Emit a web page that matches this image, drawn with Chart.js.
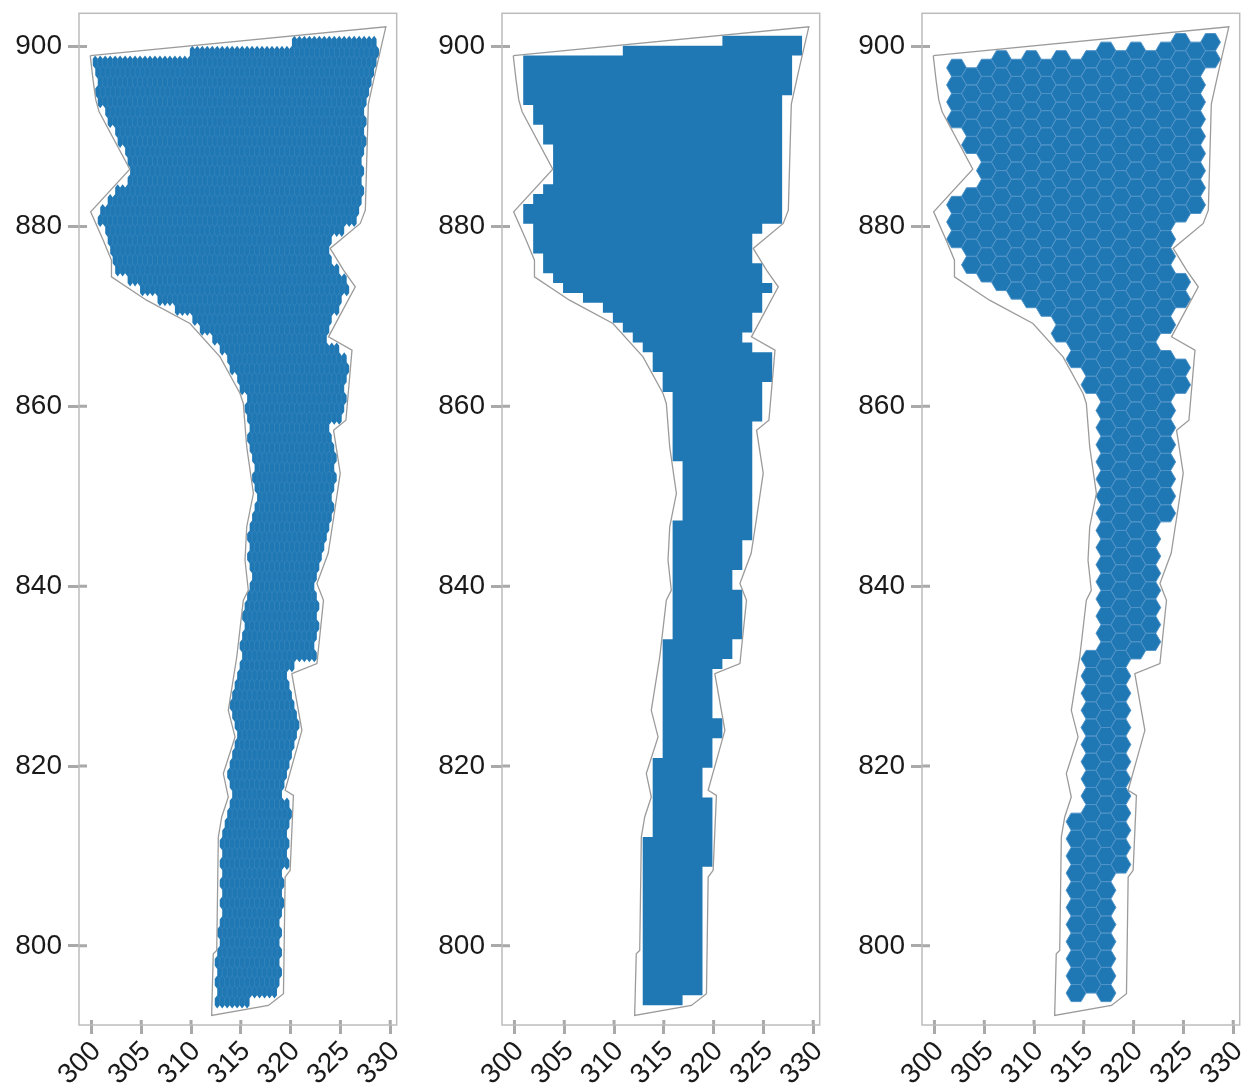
<!DOCTYPE html>
<html>
<head>
<meta charset="utf-8">
<script src="https://cdn.jsdelivr.net/npm/chart.js@4.4.1/dist/chart.umd.min.js"></script>
<style>
  html, body { margin: 0; padding: 0; background: #ffffff; width: 1251px; height: 1088px; overflow: hidden; }
  .panel { position: absolute; top: 0; width: 412px; height: 1088px; }
</style>
</head>
<body>
<div class="panel" style="left:0px"><canvas id="c1" width="412" height="1088"></canvas></div>
<div class="panel" style="left:422.7px"><canvas id="c2" width="412" height="1088"></canvas></div>
<div class="panel" style="left:842.7px"><canvas id="c3" width="412" height="1088"></canvas></div>
<script>
// Study-area boundary, vertices listed clockwise from the north-west corner
const boundaryX = [
  299.88, 329.56, 328.60, 327.80, 327.50, 326.99, 323.97, 325.31, 326.49, 323.80,
  326.16, 325.55, 324.31, 324.98, 324.28, 323.77, 322.64, 323.30, 322.64, 320.12,
  321.13, 319.45, 320.28, 319.95, 319.45, 319.28, 317.77, 312.07, 312.23, 312.58,
  312.74, 313.08, 313.74, 313.24, 314.42, 313.74, 314.59, 315.25, 315.75, 315.42,
  315.59, 316.26, 315.59, 315.25, 314.92, 312.91, 309.89, 305.53, 302.01, 302.01,
  301.17, 299.92, 303.85, 300.77, 300.43, 300.16
];
const boundaryY = [
  899.00, 902.20, 897.60, 893.60, 881.81, 880.33, 877.55, 875.14, 873.28, 867.72,
  866.24, 858.45, 857.34, 852.56, 847.33, 843.66, 840.29, 838.43, 831.39, 830.28,
  823.97, 817.30, 816.74, 808.40, 807.65, 794.68, 793.38, 792.27, 799.13, 799.50,
  812.10, 814.33, 816.55, 819.16, 823.23, 826.19, 832.12, 838.43, 839.54, 842.88,
  846.59, 850.30, 855.48, 860.31, 861.42, 865.50, 869.21, 871.80, 874.39, 876.25,
  878.48, 881.62, 886.36, 892.75, 894.10, 896.30
];

const xTickValues = [300, 305, 310, 315, 320, 325, 330];
const yTickValues = [800, 820, 840, 860, 880, 900];

const X_MIN = 298.75, X_MAX = 330.65;
const Y_MIN = 791.2,  Y_MAX = 903.7;

const FILL = '#1f77b4';
const FONT = "'Liberation Sans', Arial, Helvetica, sans-serif";

// ---------- geometry helpers ----------
const minX = Math.min(...boundaryX), maxX = Math.max(...boundaryX);
const minY = Math.min(...boundaryY), maxY = Math.max(...boundaryY);

function insideBoundary(x, y) {
  let inside = false;
  for (let i = 0, j = boundaryX.length - 1; i < boundaryX.length; j = i++) {
    const xi = boundaryX[i], yi = boundaryY[i], xj = boundaryX[j], yj = boundaryY[j];
    if (((yi > y) !== (yj > y)) && (x < (xj - xi) * (y - yi) / (yj - yi) + xi)) inside = !inside;
  }
  return inside;
}

function insideConvex(verts, x, y) {
  // verts counter-clockwise
  for (let i = 0; i < verts.length; i++) {
    const [ax, ay] = verts[i], [bx, by] = verts[(i + 1) % verts.length];
    if ((bx - ax) * (y - ay) - (by - ay) * (x - ax) <= 0) return false;
  }
  return true;
}

// a cell is kept only when it lies wholly inside the boundary
function cellWithin(verts) {
  for (const [vx, vy] of verts) if (!insideBoundary(vx, vy)) return false;
  for (let i = 0; i < boundaryX.length; i++) if (insideConvex(verts, boundaryX[i], boundaryY[i])) return false;
  return true;
}

function cellVertices(cx, cy, g) {
  if (g.kind === 'square') {
    const hx = g.size / 2, hy = g.size * g.ky / 2;
    return [[cx - hx, cy - hy], [cx + hx, cy - hy], [cx + hx, cy + hy], [cx - hx, cy + hy]];
  }
  if (g.kind === 'pointy') {
    const hw = g.hw, r = g.ry;
    return [[cx + hw, cy - r / 2], [cx + hw, cy + r / 2], [cx, cy + r],
            [cx - hw, cy + r / 2], [cx - hw, cy - r / 2], [cx, cy - r]];
  }
  const v = [];
  for (let a = 0; a < 6; a++) {
    const t = a * Math.PI / 3;
    v.push([cx + g.size * Math.cos(t), cy + g.size * g.ky * Math.sin(t)]);
  }
  return v;
}

function tessellate(g) {
  const cells = [];
  if (g.kind === 'square') {
    const sx = g.size, sy = g.size * g.ky;
    for (let i = 0; g.ox + i * sx < maxX; i++) {
      for (let j = 0; g.oy + j * sy < maxY; j++) {
        const cx = g.ox + (i + 0.5) * sx, cy = g.oy + (j + 0.5) * sy;
        if (cellWithin(cellVertices(cx, cy, g))) cells.push({ x: cx, y: cy });
      }
    }
  } else if (g.kind === 'pointy') {
    const dy = 1.5 * g.ry, dx = 2 * g.hw;
    const n0 = Math.floor((minY - g.oy) / dy) - 1, n1 = Math.ceil((maxY - g.oy) / dy) + 1;
    const i0 = Math.floor((minX - g.ox) / dx) - 1, i1 = Math.ceil((maxX - g.ox) / dx) + 1;
    for (let n = n0; n <= n1; n++) {
      const odd = ((n % 2) + 2) % 2 === 1;
      for (let i = i0; i <= i1; i++) {
        const cx = g.ox + i * dx + (odd ? g.hw : 0), cy = g.oy + n * dy;
        if (cellWithin(cellVertices(cx, cy, g))) cells.push({ x: cx, y: cy });
      }
    }
  } else {
    const dx = 1.5 * g.size, H = Math.sqrt(3) * g.size * g.ky;
    const k0 = Math.floor((minX - g.ox) / dx) - 1, k1 = Math.ceil((maxX - g.ox) / dx) + 1;
    const n0 = Math.floor((minY - g.oy) / H) - 1, n1 = Math.ceil((maxY - g.oy) / H) + 1;
    for (let k = k0; k <= k1; k++) {
      const odd = ((k % 2) + 2) % 2 === 1;
      for (let n = n0; n <= n1; n++) {
        const cx = g.ox + k * dx, cy = g.oy + n * H + (odd ? H / 2 : 0);
        if (cellWithin(cellVertices(cx, cy, g))) cells.push({ x: cx, y: cy });
      }
    }
  }
  return cells;
}

// ---------- plugins ----------
const cellPlugin = {
  id: 'cells',
  beforeDatasetsDraw(chart, args, opts) {
    const xs = chart.scales.x, ys = chart.scales.y, ctx = chart.ctx;
    const pts = chart.data.datasets[0].data;
    ctx.save();
    ctx.beginPath();
    for (const p of pts) {
      const v = cellVertices(p.x, p.y, opts);
      v.forEach(([vx, vy], i) => {
        const px = xs.getPixelForValue(vx), py = ys.getPixelForValue(vy);
        if (i === 0) ctx.moveTo(px, py); else ctx.lineTo(px, py);
      });
      ctx.closePath();
    }
    ctx.fillStyle = opts.fill;
    ctx.fill('nonzero');
    if (opts.edgeWidth > 0) {
      ctx.strokeStyle = opts.edge;
      ctx.lineWidth = opts.edgeWidth;
      ctx.lineJoin = 'round';
      ctx.stroke();
    }
    ctx.restore();
  }
};

const framePlugin = {
  id: 'frame',
  afterDraw(chart) {
    const { ctx, chartArea: a } = chart;
    const xs = chart.scales.x, ys = chart.scales.y;
    ctx.save();
    // inner part of the tick marks
    ctx.strokeStyle = '#a9a9a9';
    ctx.lineWidth = 3;
    ctx.beginPath();
    for (const t of ys.ticks) {
      const py = ys.getPixelForValue(t.value);
      ctx.moveTo(a.left, py); ctx.lineTo(a.left + 8, py);
    }
    for (const t of xs.ticks) {
      const px = xs.getPixelForValue(t.value);
      ctx.moveTo(px, a.bottom); ctx.lineTo(px, a.bottom - 5);
    }
    ctx.stroke();
    // axes box
    ctx.strokeStyle = '#bcbcbc';
    ctx.lineWidth = 1.5;
    ctx.strokeRect(a.left, a.top, a.right - a.left, a.bottom - a.top);
    ctx.restore();
  }
};

// ---------- panels ----------
const panels = [
  { id: 'c1', grid: { kind: 'pointy', hw: 0.25, ry: 1.1 / 1.5, ox: minX, oy: 792.667,
                      fill: FILL, edge: 'rgba(255,255,255,0.08)', edgeWidth: 0.6 } },
  { id: 'c2', grid: { kind: 'square', size: 1, ky: 1.1, ox: minX, oy: 792.30,
                      fill: FILL, edge: FILL, edgeWidth: 0 } },
  { id: 'c3', grid: { kind: 'hex', size: 1, ky: 1.1, ox: 300.72, oy: 793.80,
                      fill: FILL, edge: '#4f93c7', edgeWidth: 1 } }
];

const outline = boundaryX.map((x, i) => ({ x, y: boundaryY[i] }));
outline.push({ x: boundaryX[0], y: boundaryY[0] });

for (const p of panels) {
  const cells = tessellate(p.grid);
  new Chart(document.getElementById(p.id), {
    type: 'scatter',
    data: {
      datasets: [
        { label: 'cells', data: cells, pointRadius: 0, pointHoverRadius: 0, showLine: false },
        { label: 'boundary', data: outline, showLine: true, borderColor: '#9b9b9b', borderWidth: 1.3,
          pointRadius: 0, pointHoverRadius: 0, fill: false, tension: 0 }
      ]
    },
    options: {
      responsive: false,
      animation: false,
      events: [],
      layout: { padding: { top: 13.3, right: 15.3, bottom: 0, left: 0 } },
      plugins: {
        legend: { display: false },
        tooltip: { enabled: false },
        cells: p.grid
      },
      scales: {
        x: {
          type: 'linear', min: X_MIN, max: X_MAX,
          afterBuildTicks: s => { s.ticks = xTickValues.map(v => ({ value: v })); },
          afterFit: s => { s.height = 63; s.paddingLeft = 0; s.paddingRight = 0; },
          ticks: { autoSkip: false, minRotation: 45, maxRotation: 45, padding: 1, labelOffset: 5,
                   color: '#1a1a1a', font: { family: FONT, size: 28 } },
          grid: { drawOnChartArea: false, drawTicks: true, tickLength: 9, tickWidth: 3, tickColor: '#a9a9a9' },
          border: { display: false }
        },
        y: {
          type: 'linear', min: Y_MIN, max: Y_MAX,
          afterBuildTicks: s => { s.ticks = yTickValues.map(v => ({ value: v })); },
          afterFit: s => { s.width = 79; s.paddingTop = 0; s.paddingBottom = 0; },
          ticks: { padding: 6, color: '#1a1a1a', font: { family: FONT, size: 28 } },
          grid: { drawOnChartArea: false, drawTicks: true, tickLength: 11, tickWidth: 3, tickColor: '#a9a9a9' },
          border: { display: false }
        }
      }
    },
    plugins: [cellPlugin, framePlugin]
  });
}
</script>
</body>
</html>
